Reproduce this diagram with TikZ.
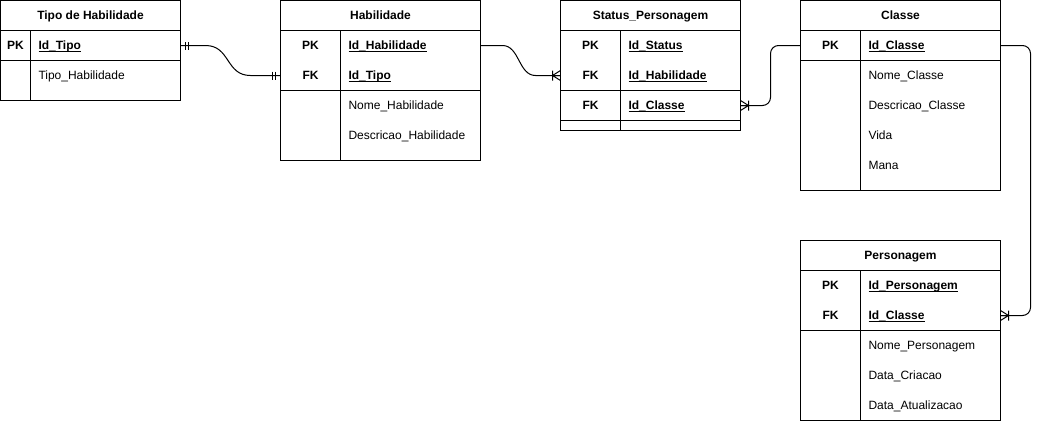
\documentclass[tikz,border=0pt]{standalone}
\usepackage{fontspec}
\setmainfont{Liberation Sans}
\usepackage{tikz}
\usetikzlibrary{positioning}
\newcommand{\ukey}[1]{\leavevmode\setbox0\hbox{\bfseries #1}\rlap{\rule[-2pt]{\wd0}{0.8pt}}\box0}

\begin{document}
\fontsize{12}{14}\selectfont
\begin{tikzpicture}[x=1pt,y=1pt,line width=1pt,node distance=30pt,on grid,
  hdr/.style={draw,rectangle,minimum width=#1,minimum height=30pt,inner sep=0pt,outer sep=0pt,text height=10pt,text depth=2pt,font=\bfseries},
  kc/.style={rectangle,minimum width=#1,minimum height=30pt,inner sep=0pt,outer sep=0pt,text height=10pt,text depth=2pt,font=\bfseries},
  fc/.style={rectangle,text width=#1,align=left,minimum height=30pt,inner xsep=8pt,inner ysep=0pt,outer sep=0pt,text height=10pt,text depth=2pt},
  erone/.pic={\draw (-5,4) -- (-5,-4) (-8,4) -- (-8,-4);},
  ermany/.pic={\draw (0,5) -- (-8,0) -- (0,-5) (0,0) -- (-8,0) (-8,5) -- (-8,-5);}]
\useasboundingbox (-0.5,0.5) rectangle (1038.5,-420.5);
% tipo de habilidade
\node[hdr=180pt] (tipo) at (90,-15) {Tipo de Habilidade};
\node[kc=30pt] (tipo_pk) [below=of tipo,xshift=-75pt] {PK};
\node[fc=134pt] (tipo_id) [right=90pt of tipo_pk] {\ukey{Id\_Tipo}};
\node[fc=134pt] (tipo_nome) [below=of tipo_id] {Tipo\_Habilidade};
\draw (tipo.south west) rectangle ++(180,-70);
\draw (tipo_pk.south west) -- (tipo_id.south east);
\draw (tipo_pk.north east) -- ++(0,-70);
% habilidade
\node[hdr=200pt] (hab) [right=290pt of tipo] {Habilidade};
\node[kc=60pt] (hab_pk) [below=of hab,xshift=-70pt] {PK};
\node[fc=124pt] (hab_id) [right=100pt of hab_pk] {\ukey{Id\_Habilidade}};
\node[kc=60pt] (hab_fk) [below=of hab_pk] {FK};
\node[fc=124pt] (hab_tipo) [below=of hab_id] {\ukey{Id\_Tipo}};
\node[fc=124pt] (hab_nome) [below=of hab_tipo] {Nome\_Habilidade};
\node[fc=124pt] (hab_desc) [below=of hab_nome] {Descricao\_Habilidade};
\draw (hab.south west) rectangle ++(200,-130);
\draw (hab_fk.south west) -- (hab_tipo.south east);
\draw (hab_pk.north east) -- ++(0,-130);
% status_personagem
\node[hdr=180pt] (st) [right=270pt of hab] {Status\_Personagem};
\node[kc=60pt] (st_pk) [below=of st,xshift=-60pt] {PK};
\node[fc=104pt] (st_id) [right=90pt of st_pk] {\ukey{Id\_Status}};
\node[kc=60pt] (st_fk) [below=of st_pk] {FK};
\node[fc=104pt] (st_hab) [below=of st_id] {\ukey{Id\_Habilidade}};
\node[kc=60pt] (st_fk2) [below=of st_fk] {FK};
\node[fc=104pt] (st_cls) [below=of st_hab] {\ukey{Id\_Classe}};
\draw (st.south west) rectangle ++(180,-100);
\draw (st_fk.south west) -- (st_hab.south east);
\draw (st_fk2.south west) -- (st_cls.south east);
\draw (st_pk.north east) -- ++(0,-100);
% classe
\node[hdr=200pt] (cl) [right=250pt of st] {Classe};
\node[kc=60pt] (cl_pk) [below=of cl,xshift=-70pt] {PK};
\node[fc=124pt] (cl_id) [right=100pt of cl_pk] {\ukey{Id\_Classe}};
\node[fc=124pt] (cl_nome) [below=of cl_id] {Nome\_Classe};
\node[fc=124pt] (cl_desc) [below=of cl_nome] {Descricao\_Classe};
\node[fc=124pt] (cl_vida) [below=of cl_desc] {Vida};
\node[fc=124pt] (cl_mana) [below=of cl_vida] {Mana};
\draw (cl.south west) rectangle ++(200,-160);
\draw (cl_pk.south west) -- (cl_id.south east);
\draw (cl_pk.north east) -- ++(0,-160);
% personagem
\node[hdr=200pt] (pe) [below=240pt of cl] {Personagem};
\node[kc=60pt] (pe_pk) [below=of pe,xshift=-70pt] {PK};
\node[fc=124pt] (pe_id) [right=100pt of pe_pk] {\ukey{Id\_Personagem}};
\node[kc=60pt] (pe_fk) [below=of pe_pk] {FK};
\node[fc=124pt] (pe_cls) [below=of pe_id] {\ukey{Id\_Classe}};
\node[fc=124pt] (pe_nome) [below=of pe_cls] {Nome\_Personagem};
\node[fc=124pt] (pe_cria) [below=of pe_nome] {Data\_Criacao};
\node[fc=124pt] (pe_atu) [below=of pe_cria] {Data\_Atualizacao};
\draw (pe.south west) rectangle ++(200,-150);
\draw (pe_fk.south west) -- (pe_cls.south east);
\draw (pe_pk.north east) -- ++(0,-150);
% relacionamentos
\draw (tipo_id.east) -- ++(25,0) .. controls +(25,0) and +(-25,0) .. ([xshift=-30pt]hab_fk.west) -- (hab_fk.west);
\pic[rotate=180] at (tipo_id.east) {erone};
\pic at (hab_fk.west) {erone};
\draw (hab_id.east) -- ++(22,0) .. controls +(17,0) and +(-17,0) .. ([xshift=-25pt]st_fk.west) -- (st_fk.west);
\pic at (st_fk.west) {ermany};
\draw[rounded corners=8pt] (cl_pk.west) -| ([xshift=30pt]st_cls.east) -- (st_cls.east);
\pic[rotate=180] at (st_cls.east) {ermany};
\draw[rounded corners=8pt] (cl_id.east) -| ([xshift=30pt]pe_cls.east) -- (pe_cls.east);
\pic[rotate=180] at (pe_cls.east) {ermany};
\end{tikzpicture}
\end{document}
